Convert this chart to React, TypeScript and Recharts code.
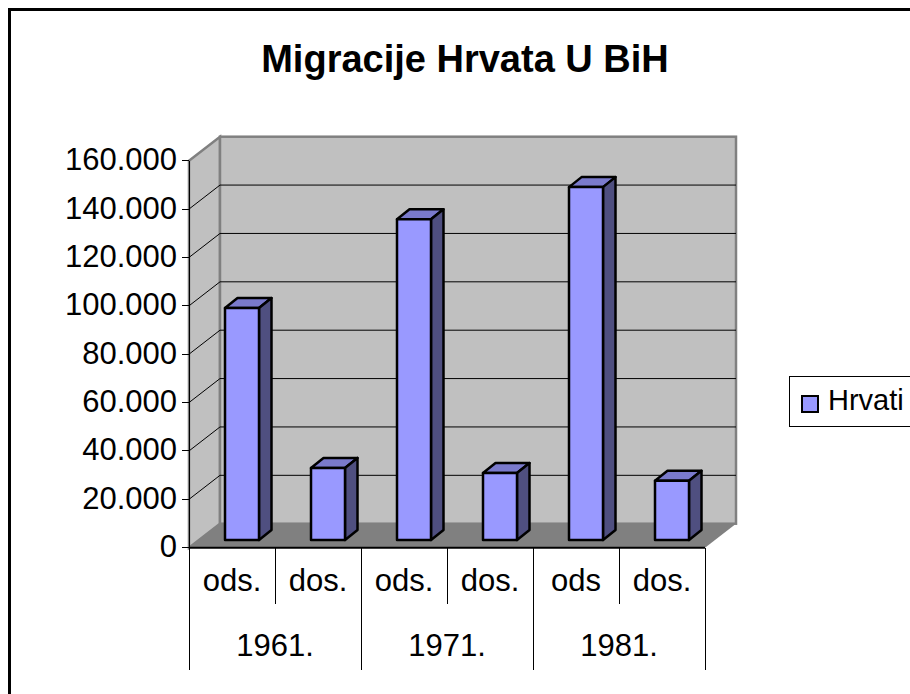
import React from "react";
import {
  BarChart,
  Bar,
  XAxis,
  YAxis,
  CartesianGrid,
  Legend,
} from "recharts";

const categories = ["ods.", "dos.", "ods.", "dos.", "ods", "dos."];
const years = ["1961.", "1961.", "1971.", "1971.", "1981.", "1981."];
const hrvati = [95900, 29800, 132600, 27700, 145900, 24500];
const yTicks = [0, 20000, 40000, 60000, 80000, 100000, 120000, 140000, 160000];

const data = categories.map((c, i) => ({
  key: i,
  name: c,
  year: years[i],
  Hrvati: hrvati[i],
}));

const FONT = "'Liberation Sans', Arial, sans-serif";
const DX = 31;
const DY = -24;
const PLOT = { left: 189, right: 705, top: 160.7, bottom: 547.7 };
const BAND = (PLOT.right - PLOT.left) / categories.length;
const LEGEND_W = 124;

const fmt = (v: number) => String(v).replace(/\B(?=(\d{3})+$)/g, ".");

// back wall, side wall and floor of the 3d box, sits behind the chart svg
function Walls() {
  const { left, right, top, bottom } = PLOT;
  return (
    <svg width={910} height={694} style={{ position: "absolute", left: 0, top: 0 }}>
      <polygon
        points={`${left},${top} ${left + DX},${top + DY} ${left + DX},${bottom + DY} ${left},${bottom}`}
        fill="#c0c0c0"
        stroke="#808080"
        strokeWidth={2.5}
      />
      <rect
        x={left + DX}
        y={top + DY}
        width={right - left}
        height={bottom - top}
        fill="#c0c0c0"
        stroke="#808080"
        strokeWidth={2.5}
      />
      <polygon
        points={`${left},${bottom} ${left + DX},${bottom + DY} ${right + DX},${bottom + DY} ${right},${bottom}`}
        fill="#808080"
      />
    </svg>
  );
}

function GridLine(props: any) {
  const { x1, x2, y1 } = props;
  if (y1 <= PLOT.top + 1 || y1 >= PLOT.bottom - 1) return <g />;
  return (
    <polyline
      points={`${x1},${y1} ${x1 + DX},${y1 + DY} ${x2 + DX},${y1 + DY}`}
      fill="none"
      stroke="#000"
      strokeWidth={1}
    />
  );
}

function Bar3D(props: any) {
  const { x, y, width, height } = props;
  const l = x + 10;
  const r = l + width;
  const t = y - 7.7;
  const b = t + height;
  const dx = 12.5;
  const dy = -10;
  return (
    <g stroke="#000" strokeWidth={2.5} strokeLinejoin="round">
      <polygon points={`${l},${t} ${l + dx},${t + dy} ${r + dx},${t + dy} ${r},${t}`} fill="#7a7acc" />
      <polygon points={`${r},${t} ${r + dx},${t + dy} ${r + dx},${b + dy} ${r},${b}`} fill="#4f4f80" />
      <rect x={l} y={t} width={width} height={height} fill="#9999ff" />
    </g>
  );
}

function LevelOneTick(props: any) {
  const { x, payload, index } = props;
  const h = BAND / 2;
  return (
    <g>
      {index === 0 && (
        <line x1={x - h} x2={x - h} y1={PLOT.bottom} y2={PLOT.bottom + 122} stroke="#000" shapeRendering="crispEdges" />
      )}
      {index % 2 === 0 && (
        <line x1={x + h} x2={x + h} y1={PLOT.bottom} y2={PLOT.bottom + 56} stroke="#000" shapeRendering="crispEdges" />
      )}
      <text x={x} y={PLOT.bottom + 43} textAnchor="middle" fontFamily={FONT} fontSize={31} fill="#000">
        {categories[payload.value]}
      </text>
    </g>
  );
}

function LevelTwoTick(props: any) {
  const { x, payload } = props;
  return (
    <g>
      <line
        x1={x + BAND}
        x2={x + BAND}
        y1={PLOT.bottom}
        y2={PLOT.bottom + 122}
        stroke="#000"
        shapeRendering="crispEdges"
      />
      <text x={x} y={PLOT.bottom + 108} textAnchor="middle" fontFamily={FONT} fontSize={31} fill="#000">
        {payload.value}
      </text>
    </g>
  );
}

function LegendBox() {
  return (
    <div
      style={{
        width: LEGEND_W,
        height: 51,
        boxSizing: "border-box",
        border: "1px solid #000",
        background: "#fff",
        position: "relative",
        fontFamily: FONT,
        fontSize: 29,
        color: "#000",
      }}
    >
      <span
        style={{
          position: "absolute",
          left: 11,
          top: 18,
          width: 14,
          height: 14,
          background: "#9999ff",
          border: "2px solid #000",
        }}
      />
      <span style={{ position: "absolute", left: 38, top: 7, lineHeight: "33px" }}>Hrvati</span>
    </div>
  );
}

export default function App() {
  return (
    <div style={{ position: "absolute", left: 0, top: 0, width: 910, height: 694, overflow: "hidden", background: "#fff" }}>
      <div
        style={{
          position: "absolute",
          left: 8,
          top: 8,
          width: 902,
          height: 686,
          boxSizing: "border-box",
          borderLeft: "3px solid #000",
          borderTop: "3px solid #000",
        }}
      />
      <Walls />
      <BarChart
        width={910}
        height={694}
        data={data}
        barSize={34}
        margin={{ top: PLOT.top, right: 910 - PLOT.right - LEGEND_W, bottom: 24.3, left: 0 }}
        style={{ position: "absolute", left: 0, top: 0 }}
      >
        <CartesianGrid vertical={false} horizontal={(p: any) => <GridLine {...p} />} />
        <text x={465} y={72} textAnchor="middle" fontFamily={FONT} fontWeight="bold" fontSize={38} fill="#000">
          Migracije Hrvata U BiH
        </text>
        <XAxis
          dataKey="key"
          height={57}
          tick={<LevelOneTick />}
          tickLine={false}
          interval={0}
          axisLine={{ stroke: "#000", strokeWidth: 2 }}
        />
        <XAxis
          xAxisId="year"
          dataKey="year"
          height={65}
          allowDuplicatedCategory={false}
          tick={<LevelTwoTick />}
          tickLine={false}
          axisLine={false}
          interval={0}
        />
        <YAxis
          width={189}
          domain={[0, 160000]}
          ticks={yTicks}
          interval={0}
          tickFormatter={fmt}
          tick={{ fontFamily: FONT, fontSize: 31, fill: "#000", dy: -1.5 }}
          tickSize={7}
          tickMargin={5}
          tickLine={{ stroke: "#000", shapeRendering: "crispEdges" }}
          axisLine={{ stroke: "#000", shapeRendering: "crispEdges" }}
        />
        <Bar dataKey="Hrvati" fill="#9999ff" shape={<Bar3D />} isAnimationActive={false} />
        <Legend
          content={<LegendBox />}
          layout="vertical"
          align="right"
          verticalAlign="middle"
          wrapperStyle={{ position: "absolute", left: 789, top: 376, width: LEGEND_W, height: 51 }}
        />
      </BarChart>
    </div>
  );
}
